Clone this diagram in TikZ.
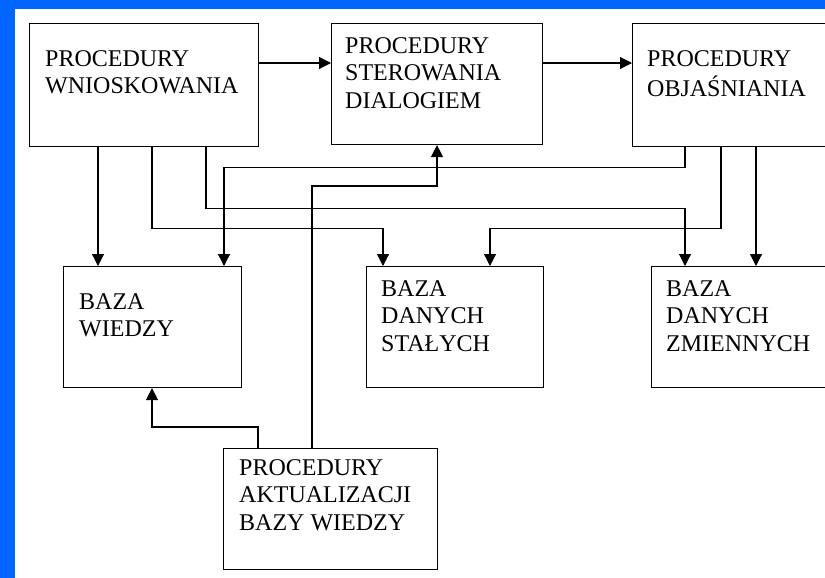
\documentclass[tikz,border=0pt]{standalone}
\usepackage{fontspec}
\setmainfont{Liberation Serif}
\usetikzlibrary{arrows.meta}
\definecolor{frameblue}{RGB}{0,102,255}
\tikzset{
  box/.style={draw=black, line width=1.1pt, fill=white, rectangle, inner sep=0pt, anchor=north west},
  lbl/.style={anchor=north west, inner sep=0pt, align=left, font=\fontsize{24}{27.5}\selectfont},
  arr/.style={draw=black, line width=1.1pt, -{Triangle[width=12pt,length=12pt]}},
  ln/.style={draw=black, line width=1.1pt}
}
\begin{document}
\begin{tikzpicture}[x=1pt, y=-1pt]
\useasboundingbox (0,0) rectangle (825,578);
\clip (0,0) rectangle (825,578);
\fill[frameblue] (0,0) rectangle (825,578);
\fill[white] (15,9) rectangle (830,583);

% boxes
\node[box, minimum width=229pt, minimum height=123pt] (A) at (29,23) {};
\node[box, minimum width=211pt, minimum height=121pt] (B) at (331,23) {};
\node[box, minimum width=240pt, minimum height=123pt] (C) at (632,23) {};
\node[box, minimum width=178pt, minimum height=121pt] (D) at (63,266) {};
\node[box, minimum width=177pt, minimum height=121pt] (E) at (366,266) {};
\node[box, minimum width=240pt, minimum height=121pt] (F) at (651,266) {};
\node[box, minimum width=214pt, minimum height=121pt] (G) at (223,448) {};

% labels
\node[lbl] (At) at (45,46.75) {\strut PROCEDURY\\WNIOSKOWANIA};
\node[lbl] (Bt) at (345,33.75) {\strut PROCEDURY\\STEROWANIA\\DIALOGIEM};
\node[lbl] (Ct) at (647,46.75) {\strut PROCEDURY\\OBJAŚNIANIA};
\node[lbl] (Dt) at (79,289.75) {\strut BAZA\\WIEDZY};
\node[lbl] (Et) at (381,276.75) {\strut BAZA\\DANYCH\\STAŁYCH};
\node[lbl] (Ft) at (666,276.75) {\strut BAZA\\DANYCH\\ZMIENNYCH};
\node[lbl] (Gt) at (239,455.75) {\strut PROCEDURY\\AKTUALIZACJI\\BAZY WIEDZY};

% anchor points
\coordinate (a1) at ([xshift=69pt]A.south west);
\coordinate (a2) at ([xshift=123pt]A.south west);
\coordinate (a3) at ([xshift=177pt]A.south west);
\coordinate (c1) at ([xshift=53pt]C.south west);
\coordinate (c2) at ([xshift=89pt]C.south west);
\coordinate (c3) at ([xshift=124pt]C.south west);
\coordinate (g1) at ([xshift=35pt]G.north west);
\coordinate (g2) at ([xshift=89pt]G.north west);
\coordinate (d1) at ([xshift=89pt]D.south west);
\coordinate (d2) at ([xshift=161pt]D.north west);
\coordinate (e1) at ([xshift=17pt]E.north west);
\coordinate (e2) at ([xshift=124pt]E.north west);
\coordinate (f1) at ([xshift=34pt]F.north west);
\coordinate (b1) at ([xshift=106pt]B.south west);

% connectors
\draw[arr] (A.east |- 0,63) -- (B.west |- 0,63);
\draw[arr] (B.east |- 0,63) -- (C.west |- 0,63);
\draw[arr] (a1) -- (a1 |- D.north);
\draw[arr] (a2) -- ++(0,81) -| (e1);
\draw[arr] (a3) -- ++(0,61) -| (f1);
\draw[arr] (c1) -- ++(0,20) -| (d2);
\draw[arr] (c2) -- ++(0,81) -| (e2);
\draw[arr] (c3) -- (c3 |- F.north);
\draw[arr] (g2) -- ++(0,-262) -| (b1);
\draw[arr] (g1) -- ++(0,-21) -| (d1);
\end{tikzpicture}
\end{document}
